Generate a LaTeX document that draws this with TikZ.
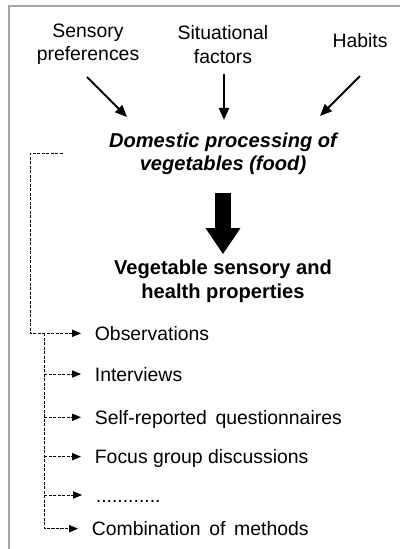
\documentclass[tikz,border=0pt]{standalone}
\usepackage{fontspec}
\setmainfont{Liberation Sans}
\usetikzlibrary{arrows.meta, positioning}

\begin{document}
\begin{tikzpicture}[
    txt/.style={font=\fontsize{13.8}{17}\selectfont, align=center, inner sep=0pt},
    bold/.style={font=\fontsize{14.3}{17}\selectfont\bfseries, align=center, inner sep=0pt},
    item/.style={font=\fontsize{13.8}{17}\selectfont, anchor=west, inner xsep=0.34cm, inner ysep=0pt, text height=0.355cm, text depth=0pt},
    inarrow/.style={-{Triangle[length=0.3cm, width=0.25cm]}, line width=0.05cm},
    fbline/.style={-{Triangle[length=0.22cm, width=0.18cm]}, line width=0.65pt, dash pattern=on 2.2pt off 1pt},
    bigarrow/.style={-{Triangle[length=0.65cm, width=0.825cm]}, line width=0.4cm}
]
    \useasboundingbox (0,0) rectangle (10,13.725);

    % frame
    \draw[gray!70, line width=0.05cm] (0.225,0) -- (0.225,13.575) -- (10,13.575);

    % influences
    \node[txt] (sens) at (2.2, 12.62) {Sensory\\preferences};
    \node[txt] (sit) at (5.575, 12.62) {Situational\\factors};
    \node[txt] (hab) at (9.0, 12.7) {Habits};

    \draw[inarrow] (sens.center) ++(-0.025,-0.82) -- ++(1,-1);
    \draw[inarrow] (sit.center) ++(0.025,-0.745) -- ++(0,-1.15);
    \draw[inarrow] (hab.center) ++(0,-0.875) -- ++(-1,-1);

    % processing -> properties
    \node[bold, font=\fontsize{14.3}{17}\selectfont\bfseries\itshape] (dom) at (5.575, 9.88) {Domestic processing of\\vegetables (food)};
    \node[bold] (veg) at (5.575, 6.7) {Vegetable sensory and\\health properties};
    \draw[bigarrow, shorten <=0.45cm, shorten >=0.13cm] (dom) -- (veg);

    % methods
    \node[item] (obs) at (2.025, 5.392) {Observations};
    \node[item] (intv) at (2.025, 4.375) {Interviews};
    \node[item] (quest) at (2.025, 3.293) {Self-reported\, questionnaires};
    \node[item] (focus) at (2.025, 2.308) {Focus group discussions};
    \node[item] (dots) at (2.05, 1.35) {............};
    \node[item] (comb) at (1.95, 0.508) {Combination\, of\, methods};

    \coordinate (fb) at (1.57, 9.89);
    \draw[fbline] (fb) -- ++(-0.82,0) |- (obs.west);

    \coordinate (trunk) at (1.11, 5.392);
    \draw[fbline] (trunk) |- (comb.west);
    \foreach \m in {intv, quest, focus, dots}
        \draw[fbline] (trunk |- \m.west) -- (\m.west);
\end{tikzpicture}
\end{document}
